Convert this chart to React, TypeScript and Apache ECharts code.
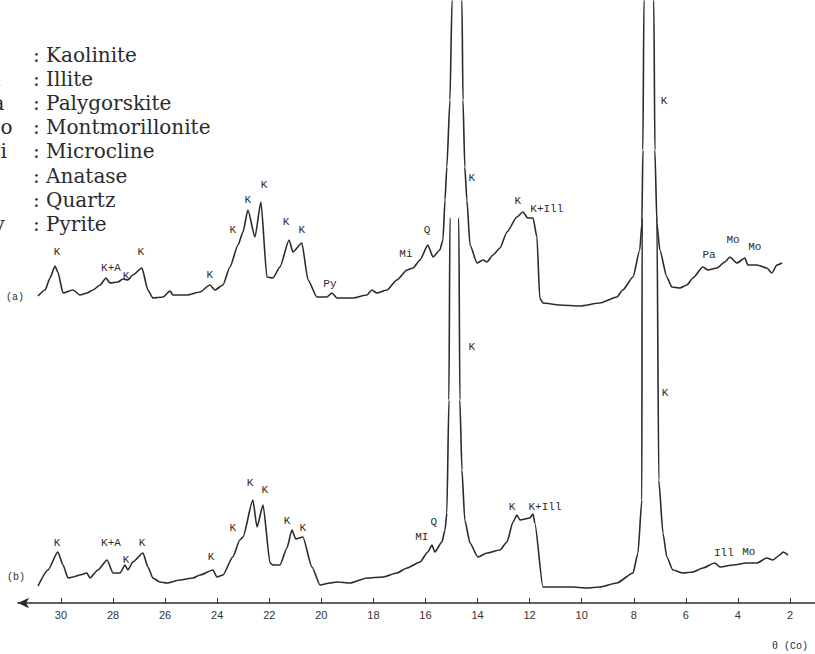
import React, { useEffect, useRef } from "react";
import * as echarts from "echarts";

// ---- trace (a): 2θ (Co) and relative intensity ----
const thetaA = [
  30.88, 30.61, 30.42, 30.23, 30.12, 29.92, 29.54, 29.27, 29.0, 28.77, 28.5, 28.27, 28.12, 27.81, 27.62, 27.43,
  27.24, 26.89, 26.66, 26.47, 26.08, 25.81, 25.7, 25.16, 24.66, 24.28, 24.09, 23.78, 23.51, 23.2, 23.01, 22.82,
  22.55, 22.32, 22.09, 21.86, 21.59, 21.24, 21.09, 20.75, 20.51, 20.17, 19.79, 19.59, 19.4, 18.79, 18.25, 18.06,
  17.87, 17.48, 17.1, 16.71, 16.48, 16.21, 15.91, 15.71, 15.45, 15.33, 15.25, 15.18, 15.06, 14.98, 14.79, 14.6,
  14.56, 14.49, 14.41, 14.29, 14.02, 13.79, 13.64, 13.41, 13.14, 12.87, 12.49, 12.26, 12.07, 11.87, 11.72, 11.61,
  11.49, 10.84, 10.07, 9.3, 8.65, 8.42, 8.03, 7.77, 7.69, 7.65, 7.61, 7.42, 7.23, 7.19, 7.11, 7.0, 6.73, 6.54,
  6.23, 5.96, 5.73, 5.35, 5.15, 4.81, 4.5, 4.31, 4.04, 3.73, 3.62, 3.27, 2.89, 2.7, 2.5, 2.31,
];
const intensityA = [
  24, 30, 42, 54, 48, 27, 30, 25, 27, 30, 35, 42, 37, 38, 41, 40,
  45, 52, 30, 22, 23, 29, 25, 25, 28, 35, 30, 35, 53, 75, 88, 110,
  83, 118, 43, 42, 53, 80, 68, 77, 40, 23, 23, 27, 22, 22, 25, 30,
  27, 30, 40, 50, 52, 60, 75, 63, 70, 80, 120, 153, 220, 320, 920, 320,
  220, 153, 120, 75, 57, 60, 58, 65, 72, 88, 103, 108, 102, 102, 83, 22,
  17, 15, 14, 17, 23, 30, 43, 70, 96, 170, 320, 920, 320, 170, 96, 70, 43, 33,
  32, 35, 42, 53, 50, 52, 58, 63, 57, 62, 55, 55, 52, 47, 55, 57,
];

// ---- trace (b) ----
const thetaB = [
  30.88, 30.5, 30.12, 29.92, 29.73, 29.54, 29.27, 29.0, 28.89, 28.58, 28.23, 28.0, 27.73, 27.54, 27.43, 27.24,
  26.85, 26.66, 26.47, 26.2, 25.93, 25.43, 24.93, 24.66, 24.16, 24.01, 23.78, 23.4, 23.13, 23.01, 22.63, 22.47,
  22.24, 21.97, 21.86, 21.59, 21.32, 21.13, 20.98, 20.71, 20.36, 20.05, 19.67, 19.4, 18.9, 18.25, 17.63, 17.1,
  16.71, 16.21, 15.91, 15.75, 15.64, 15.37, 15.25, 15.18, 15.1, 15.06, 14.91, 14.72, 14.68, 14.6, 14.49, 14.29,
  13.99, 13.64, 13.14, 12.87, 12.64, 12.49, 12.37, 11.99, 11.87, 11.8, 11.49, 10.95, 10.34, 9.8, 9.3, 8.65,
  8.03, 7.84, 7.69, 7.68, 7.38, 7.11, 7.04, 6.88, 6.73, 6.5, 6.11, 5.73, 5.35, 4.89, 4.69, 4.19,
  3.66, 3.27, 2.89, 2.66, 2.39, 2.27, 2.08,
];
const intensityB = [
  17, 33, 51, 38, 25, 26, 28, 30, 25, 33, 43, 30, 30, 38, 33, 41,
  50, 36, 25, 21, 20, 23, 25, 28, 33, 26, 28, 46, 63, 66, 103, 76,
  98, 40, 38, 38, 55, 73, 64, 66, 36, 18, 20, 21, 20, 25, 26, 30,
  35, 41, 51, 58, 51, 61, 73, 90, 203, 385, 1000, 385, 203, 133, 83, 60,
  46, 50, 53, 61, 81, 88, 83, 85, 89, 80, 16, 16, 16, 15, 16, 20,
  30, 50, 103, 385, 1000, 385, 123, 70, 46, 33, 30, 31, 35, 40, 36, 38,
  40, 40, 45, 43, 48, 51, 48,
];

// ---- peak annotations ----
const peakTextA = ["K", "K+A", "K", "K", "K", "K", "K", "K", "K", "K", "Py", "Mi", "Q", "K", "K", "K+Ill", "K", "Pa", "Mo", "Mo"];
const peakThetaA = [30.15, 28.08, 27.5, 26.93, 24.28, 23.4, 22.82, 22.2, 21.36, 20.75, 19.67, 16.75, 15.94, 14.22, 12.45, 11.34, 6.84, 5.11, 4.19, 3.35];
const peakLevelA = [68, 52, 44, 68, 45, 90, 120, 135, 98, 90, 36, 66, 90, 142, 119, 111, 219, 65, 80, 73];

const peakTextB = ["K", "K+A", "K", "K", "K", "K", "K", "K", "K", "K", "MI", "Q", "K", "K", "K+Ill", "K", "Ill", "Mo"];
const peakThetaB = [30.15, 28.08, 27.5, 26.89, 24.24, 23.4, 22.74, 22.17, 21.32, 20.71, 16.14, 15.68, 14.22, 12.68, 11.41, 6.8, 4.54, 3.58];
const peakLevelB = [60, 60, 43, 60, 46, 75, 120, 113, 82, 75, 66, 81, 256, 96, 96, 210, 50, 51];

// ---- axis ticks ----
const tickValues = [30, 28, 26, 24, 22, 20, 18, 16, 14, 12, 10, 8, 6, 4, 2];

// ---- mineral key ----
const keyAbbr = ["K", "Ill", "Pa", "Mo", "Mi", "A", "Q", "Py"];
const keyName = ["Kaolinite", "Illite", "Palygorskite", "Montmorillonite", "Microcline", "Anatase", "Quartz", "Pyrite"];

const INK = "#2b2b2b";
const MONO = "'Liberation Mono', 'DejaVu Sans Mono', monospace";

export default function App() {
  const ref = useRef<HTMLDivElement>(null);

  useEffect(() => {
    if (!ref.current) return;
    const chart = echarts.init(ref.current, null, { renderer: "svg" });

    const lineA = thetaA.map((t, i) => [t, intensityA[i]]);
    const lineB = thetaB.map((t, i) => [t, intensityB[i]]);
    const labA = peakTextA.map((t, i) => ({ value: [peakThetaA[i], peakLevelA[i]], name: t }));
    const labB = peakTextB.map((t, i) => ({ value: [peakThetaB[i], peakLevelB[i]], name: t }));

    const labelSeries = (data: any[], idx: number, texts: string[]) => ({
      type: "custom",
      xAxisIndex: idx,
      yAxisIndex: idx,
      data,
      silent: true,
      clip: false,
      renderItem: (params: any, api: any) => {
        const p = api.coord([api.value(0), api.value(1)]);
        return {
          type: "text",
          x: p[0],
          y: p[1],
          style: {
            text: texts[params.dataIndex],
            font: "11px " + MONO,
            fill: INK,
            textAlign: "center",
            textVerticalAlign: "middle",
          },
        };
      },
    });

    const keyFont = "20px 'DejaVu Serif', serif";
    const keyGraphics: any[] = [];
    keyAbbr.forEach((a, i) => {
      const y = 55 + i * 24.1;
      keyGraphics.push({
        type: "text",
        x: -20,
        y,
        style: { text: a, font: keyFont, fill: INK, textVerticalAlign: "middle" },
      });
      keyGraphics.push({
        type: "text",
        x: 33,
        y,
        style: { text: ": " + keyName[i], font: keyFont, fill: INK, textVerticalAlign: "middle" },
      });
    });

    const lineStyle = { color: INK, width: 1.6 };

    const option: any = {
      animation: false,
      backgroundColor: "#ffffff",
      grid: [
        { left: 18, right: 0, top: 0, height: 320 },
        { left: 18, right: 0, top: 218, bottom: 51 },
      ],
      xAxis: [
        { gridIndex: 0, type: "value", min: 1.04, max: 31.65, inverse: true, show: false },
        {
          gridIndex: 1,
          type: "value",
          min: 1.04,
          max: 31.65,
          inverse: true,
          axisLine: {
            show: true,
            onZero: false,
            symbol: ["arrow", "none"],
            symbolSize: [8, 11],
            lineStyle: { color: INK, width: 1.5 },
          },
          axisTick: { show: true, inside: true, length: 5, customValues: tickValues, lineStyle: { color: INK, width: 1 } },
          axisLabel: {
            customValues: tickValues,
            margin: 6,
            fontFamily: "'Liberation Sans Narrow', 'Liberation Sans', sans-serif",
            fontSize: 11,
            color: "#333",
          },
          splitLine: { show: false },
        },
      ],
      yAxis: [
        { gridIndex: 0, type: "value", min: 0, max: 320, show: false },
        { gridIndex: 1, type: "value", min: 0, max: 385, show: false },
      ],
      series: [
        {
          type: "line",
          xAxisIndex: 0,
          yAxisIndex: 0,
          data: lineA,
          showSymbol: false,
          symbol: "none",
          smooth: 0.2,
          smoothMonotone: "x",
          silent: true,
          lineStyle,
        },
        {
          type: "line",
          xAxisIndex: 1,
          yAxisIndex: 1,
          data: lineB,
          showSymbol: false,
          symbol: "none",
          smooth: 0.2,
          smoothMonotone: "x",
          silent: true,
          lineStyle,
        },
        labelSeries(labA, 0, peakTextA),
        labelSeries(labB, 1, peakTextB),
      ],
      graphic: [
        ...keyGraphics,
        { type: "text", x: 6, y: 297, style: { text: "(a)", font: "10px " + MONO, fill: INK, textVerticalAlign: "middle" } },
        { type: "text", x: 7, y: 577, style: { text: "(b)", font: "10px " + MONO, fill: INK, textVerticalAlign: "middle" } },
        { type: "text", x: 772, y: 646, style: { text: "θ (Co)", font: "10px " + MONO, fill: INK, textVerticalAlign: "middle" } },
      ],
    };

    chart.setOption(option);
    return () => chart.dispose();
  }, []);

  return <div ref={ref} style={{ position: "fixed", left: 0, top: 0, width: 815, height: 654 }} />;
}
